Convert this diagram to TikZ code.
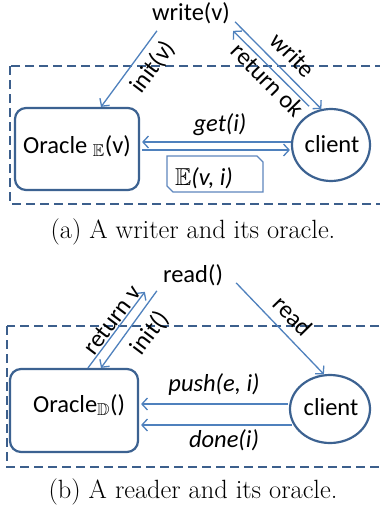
\documentclass[tikz,border=0pt]{standalone}
\usepackage{amssymb}
\usepackage{fontspec}
\newfontfamily\calfont{Carlito}
\usetikzlibrary{arrows.meta,shapes.geometric}
\definecolor{arrowblue}{RGB}{79,129,189}
\definecolor{boxblue}{RGB}{60,98,145}
\definecolor{frameblue}{RGB}{60,95,140}
\definecolor{eboxblue}{RGB}{95,135,190}
\begin{document}
\begin{tikzpicture}[x=1pt,y=-1pt,
  sf/.style={font=\calfont\fontsize{24.5}{28}\selectfont, inner sep=0pt},
  sfi/.style={font=\calfont\itshape\fontsize{24.5}{28}\selectfont, inner sep=0pt},
  arr/.style={draw=arrowblue, line width=1.3pt, -{Straight Barb[length=5.5pt,width=12pt]}},
  oraclebox/.style={draw=boxblue, line width=2.2pt, rounded corners=11pt, inner sep=0pt},
  cli/.style={ellipse, draw=boxblue, line width=2.2pt, inner sep=0pt},
  frame/.style={draw=frameblue, line width=1.6pt, dash pattern=on 9pt off 5pt},
  ebox/.style={draw=eboxblue, line width=1.2pt},
  captext/.style={font=\fontsize{26.4}{30}\selectfont, inner sep=0pt}]
\useasboundingbox (0,0) rectangle (380,514);
\clip (0,0) rectangle (380,514);
\fill[white] (0,0) rectangle (380,514);

% ---------- (a) writer ----------
\node[sf] (wv) at (191,13) {write(v)};
\draw[frame] (10,66) rectangle (381,204);
\node[oraclebox, minimum width=124pt, minimum height=82pt] (oE) at (77,149) {};
\node[sf] (oEt) at (77,146) {Oracle $_{\mathbb{E}}$(v)};
\node[cli, minimum width=78pt, minimum height=72pt] (cE) at (331,145) {};
\node[sf] (cEt) at (332,144) {client};

\draw[arr] ([shift={(5pt,-7pt)}]wv.south west) -- ([xshift=24pt]oE.north);
\draw[arr] ([shift={(5pt,2pt)}]wv.south east) -- (cE.105);
\draw[arr] ([shift={(-3pt,6pt)}]cE.120) -- ([shift={(3pt,-7pt)}]wv.south east);
\draw[arr] ([yshift=3pt]cE.west) -- ([shift={(2pt,7pt)}]oE.east);
\draw[arr] ([shift={(2pt,-1pt)}]oE.east) -- ([shift={(-1pt,-5pt)}]cE.west);

\node[sf, rotate=53] (linit) at (153,67) {init(v)};
\node[sf, rotate=-45.6] (lwrite) at (293,55) {write};
\node[sf, rotate=-45.6] (lret) at (268,80) {return ok};
\node[sfi] (lget) at (220,125) {get(i)};

\draw[ebox] (167,156) -- (257,156) -- (263,162) -- (263,192) -- (173,192) -- (167,186) -- cycle;
\node[sf, anchor=base] (ev) at (204,185) {$\mathbb{E}$\textit{(v, i)}};

\node[captext] (capa) at (193,232) {(a) A writer and its oracle.};

% ---------- (b) reader ----------
\node[sf] (rd) at (193,275) {read()};
\draw[frame] (7,326) rectangle (381,467);
\node[oraclebox, minimum width=128pt, minimum height=83pt] (oD) at (74,410.5) {};
\node[sf] (oDt) at (79,405) {Oracle$_{\mathbb{D}}$()};
\node[cli, minimum width=80pt, minimum height=68pt] (cD) at (330,409) {};
\node[sf] (cDt) at (331,407) {client};

\draw[arr] ([xshift=14pt]oD.north) -- ([shift={(-18pt,-6pt)}]rd.south west);
\draw[arr] ([shift={(-6pt,-5pt)}]rd.south west) -- ([xshift=27pt]oD.north);
\draw[arr] ([shift={(13pt,3pt)}]rd.south east) -- (cD.100);
\draw[arr] ([shift={(-1pt,5pt)}]cD.west) -- ([shift={(2pt,6.5pt)}]oD.east);
\draw[arr] ([shift={(3pt,-16pt)}]cD.west) -- ([shift={(2pt,-14.5pt)}]oD.east);

\node[sf, rotate=53] (lretv) at (112,320) {return v};
\node[sf, rotate=53] (linit2) at (150,333) {init()};
\node[sf, rotate=-45.7] (lread) at (293,316) {read};
\node[sfi] (lpush) at (214,385) {push(e, i)};
\node[sfi] (ldone) at (224,440) {done(i)};

\node[captext] (capb) at (193,492) {(b) A reader and its oracle.};
\end{tikzpicture}
\end{document}
